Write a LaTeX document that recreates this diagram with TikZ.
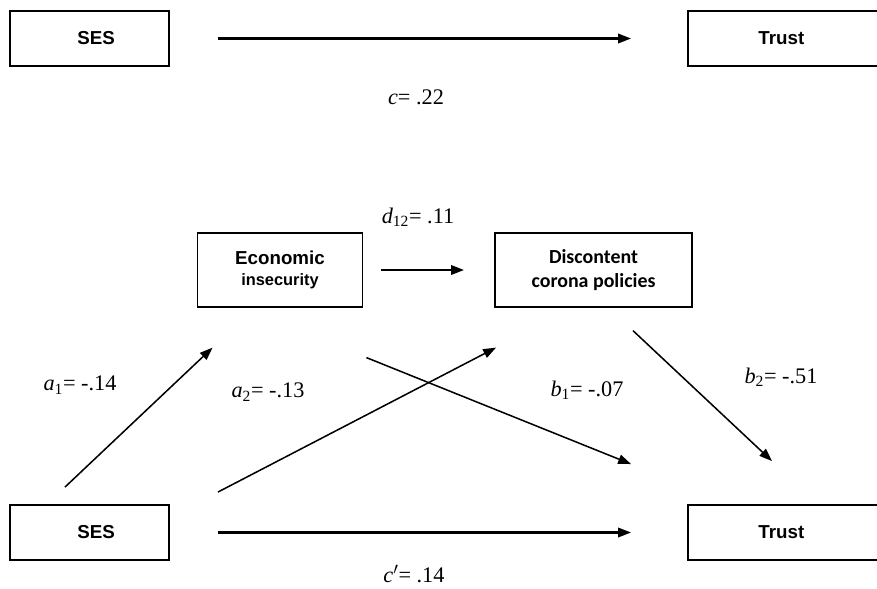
\documentclass[tikz,border=0pt]{standalone}
\usepackage{fontspec}
\setmainfont{Liberation Serif}
\newfontfamily\arialfont{Liberation Sans}
\newfontfamily\calibrifont{Carlito}
\usetikzlibrary{arrows.meta, positioning}

\begin{document}
\begin{tikzpicture}[
    x=0.3mm, y=-0.3mm,
    box/.style={rectangle, draw=black, line width=1.6pt, minimum width=47.7mm, minimum height=16.5mm, inner sep=0pt, align=center, font=\arialfont\bfseries\fontsize{16}{18}\selectfont},
    midbox/.style={box, minimum height=22mm},
    coef/.style={font=\fontsize{19}{21}\selectfont, inner sep=1pt},
    arrow/.style={-{Triangle[length=11pt,width=8pt]}, line width=1.8pt},
    slant/.style={-{Triangle[length=11pt,width=8pt]}, line width=1.3pt}
]
\useasboundingbox (0,0) rectangle (877,588);
\clip (0,0) rectangle (877,588);

% total effect
\node[box] (sestop) at (89.5,38.5) {\hspace{4mm}SES};
\node[box, minimum width=60mm] (trusttop) at (788,38.5) {Trust\hspace{4mm}};
\node[coef] (cval) at (416,97) {\textit{c}= .22};

\draw[arrow] ([xshift=14.4mm]sestop.east) -- ([xshift=-16.8mm]trusttop.west);

% serial mediation model
\node[midbox, minimum width=49.5mm] (econ) at (280,270) {\fontsize{16}{19}\selectfont Economic\\\fontsize{14}{17}\selectfont insecurity};
\node[midbox, minimum width=59.1mm, font=\calibrifont\bfseries\fontsize{17}{21}\selectfont] (disc) at (593.5,270) {Discontent\\corona policies};
\node[box] (sesbot) at (89.5,532.5) {\hspace{4mm}SES};
\node[box, minimum width=60mm] (trustbot) at (788,532.5) {Trust\hspace{4mm}};

\node[coef] (dval) at (418,217) {\textit{d}\textsubscript{12}= .11};
\node[coef] (aone) at (80,385) {\textit{a}\textsubscript{1}= -.14};
\node[coef] (atwo) at (268,392) {\textit{a}\textsubscript{2}= -.13};
\node[coef] (bone) at (587,390) {\textit{b}\textsubscript{1}= -.07};
\node[coef] (btwo) at (781,377) {\textit{b}\textsubscript{2}= -.51};
\node[coef] (cprime) at (414,574) {\textit{c}$'$= .14};

\draw[arrow] ([xshift=5.4mm]econ.east) -- ([xshift=-9mm]disc.west);
\draw[slant] ([shift={(-24.5,-17)}]sesbot.north) -- ([shift={(16,40)}]econ.south west);
\draw[slant] ([shift={(48,-12)}]sesbot.north east) -- ([shift={(2,40)}]disc.south west);
\draw[slant] ([shift={(3,50)}]econ.south east) -- ([shift={(-56,-40)}]trustbot.north west);
\draw[slant] ([shift={(-60,23)}]disc.south east) -- ([shift={(-16,-43)}]trustbot.north);
\draw[arrow] ([xshift=14.4mm]sesbot.east) -- ([xshift=-16.8mm]trustbot.west);
\end{tikzpicture}
\end{document}
